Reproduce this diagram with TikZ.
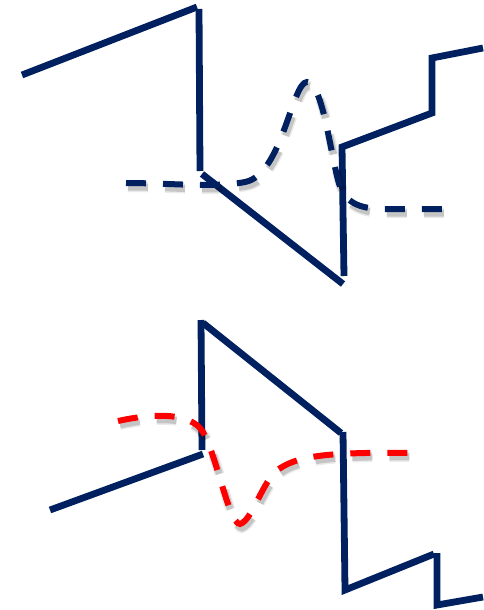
\documentclass[tikz,border=0pt]{standalone}
\definecolor{navy}{HTML}{002060}
\definecolor{wavered}{HTML}{FF0000}
\begin{document}
\begin{tikzpicture}[x=1pt,y=-1pt,
  solidline/.style={draw=navy, line width=6.8pt},
  wavedash/.style={dash pattern=on 20pt off 17pt},
  softshadow/.style={
    preaction={draw=black, wavedash, opacity=0.08, line width=10pt, transform canvas={shift={(2pt,-4pt)}}},
    preaction={draw=black, wavedash, opacity=0.16, line width=7pt, transform canvas={shift={(2pt,-4pt)}}}},
  dashline/.style={line width=6pt, wavedash, softshadow}]
\useasboundingbox (0,0) rectangle (483,610);

% upper staircase
\coordinate (a1) at (22,75);  \coordinate (a2) at (197,7);
\coordinate (a3) at (199,9);  \coordinate (a4) at (200,171);
\coordinate (a5) at (202,174);\coordinate (a6) at (343,284);
\coordinate (a7) at (344,276);\coordinate (a8) at (342,147);
\coordinate (a9) at (432,113);\coordinate (a10) at (432,58);
\coordinate (a11) at (483,48);
\draw[solidline] (a1) -- (a2);
\draw[solidline] (a3) -- (a4);
\draw[solidline] (a5) -- (a6);
\draw[solidline, line join=miter] (a7) -- (a8) -- (a9) -- (a10) -- (a11);

% upper wave
\draw[dashline, navy] (126,183) .. controls (170,183) and (215,188) .. (245,182)
  .. controls (282,175) and (292,82) .. (307,82)
  .. controls (322,82) and (330,150) .. (338,180)
  .. controls (343,200) and (355,208) .. (380,209) -- (450,209);

% lower staircase
\coordinate (b1) at (50,510); \coordinate (b2) at (203,454);
\coordinate (b3) at (202,450);\coordinate (b4) at (201,320);
\coordinate (b5) at (203,323);\coordinate (b6) at (341,433);
\coordinate (b7) at (343,432);\coordinate (b8) at (345,590);
\coordinate (b9) at (434,554);\coordinate (b10) at (437,605);
\coordinate (b11) at (483,597);
\draw[solidline] (b1) -- (b2);
\draw[solidline] (b3) -- (b4);
\draw[solidline] (b5) -- (b6);
\draw[solidline, line join=miter] (b7) -- (b8) -- (b9);
\draw[solidline, line join=miter] (437,553) -- (b10) -- (b11);

% lower wave
\draw[dashline, wavered] (118,421) .. controls (150,414) and (185,412) .. (200,428)
  .. controls (215,445) and (228,524) .. (240,524)
  .. controls (252,520) and (260,488) .. (275,472)
  .. controls (295,455) and (330,452) .. (412,453);
\end{tikzpicture}
\end{document}
